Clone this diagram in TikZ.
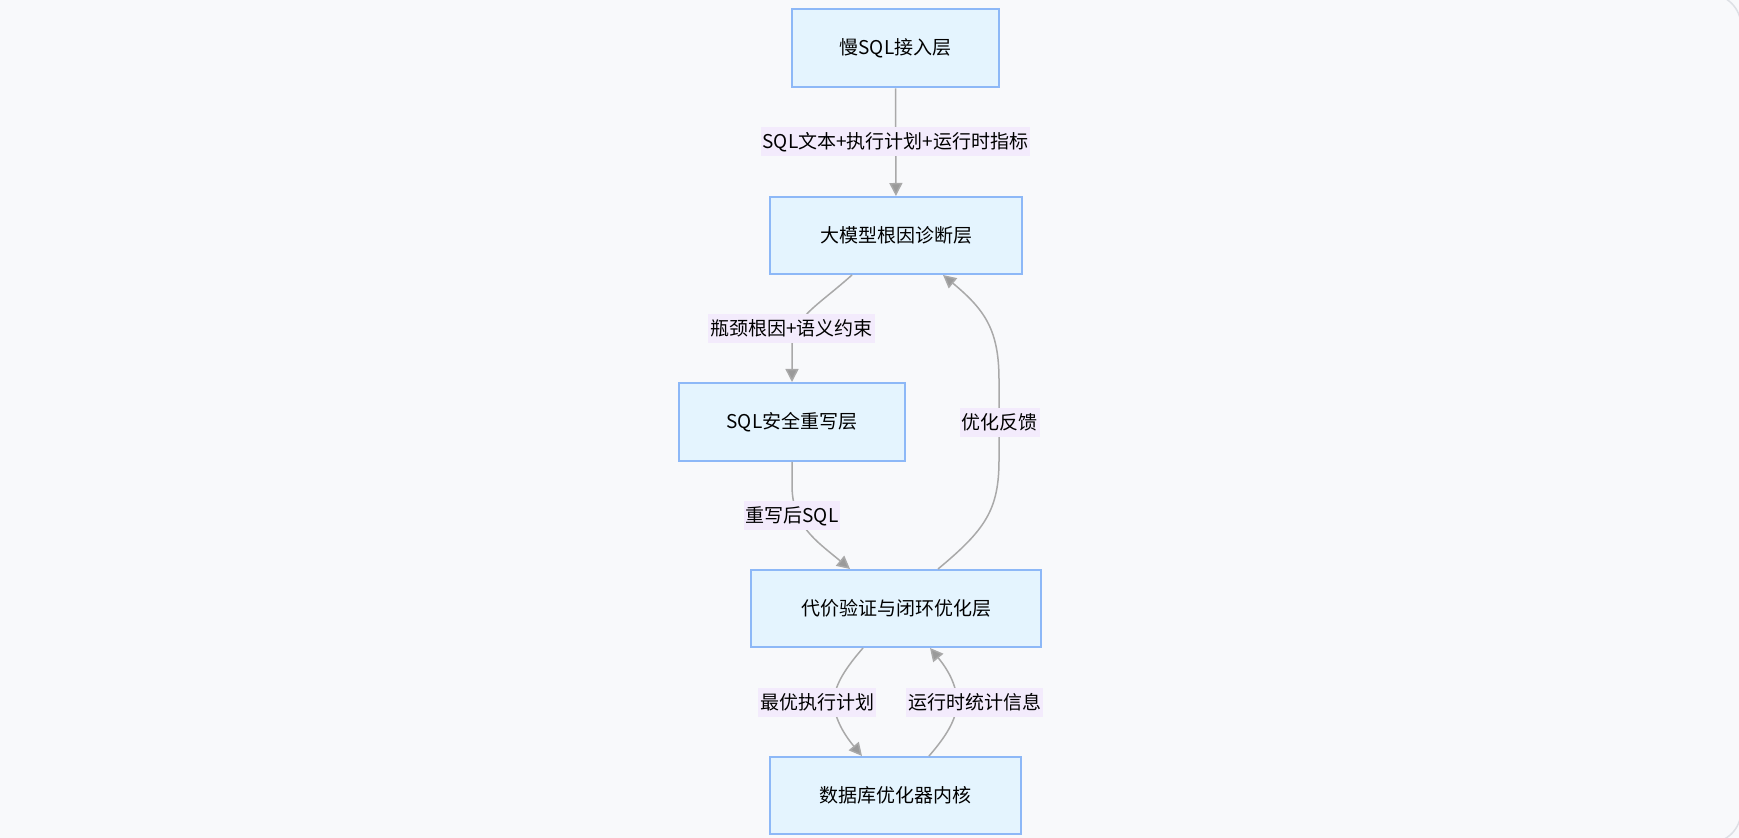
\documentclass[tikz,border=0pt]{standalone}
\usepackage{fontspec}
\setmainfont{Noto Sans CJK SC}
\usetikzlibrary{arrows.meta,calc}
\definecolor{bgc}{HTML}{F8F9FB}
\definecolor{boxfill}{HTML}{E4F4FE}
\definecolor{boxline}{HTML}{8DB8F7}
\definecolor{edgec}{HTML}{A9A9A9}
\definecolor{tipc}{HTML}{9A9A9A}
\definecolor{lblfill}{HTML}{F3EBFC}
\definecolor{cardline}{HTML}{DDE0E5}
\tikzset{
  layer/.style={draw=boxline, fill=boxfill, line width=1pt, font=\fontsize{9.5}{11}\selectfont, inner sep=0pt, anchor=center},
  lbl/.style={fill=lblfill, font=\fontsize{9.5}{11}\selectfont, inner xsep=1pt, inner ysep=0pt, minimum height=14.5pt},
  flow/.style={draw=edgec, line width=0.75pt, -{Triangle[length=6.5pt,width=6.5pt,fill=tipc]}},
}
\begin{document}
\begin{tikzpicture}[x=0.5pt,y=-0.5pt]
\useasboundingbox (0,0) rectangle (1739,838);
\fill[bgc] (0,0) rectangle (1739,838);
\draw[cardline, line width=0.75pt, rounded corners=16pt] (-30,-6) rectangle (1741,843);
% nodes
\node[layer, minimum width=103.5pt, minimum height=39pt] (n1) at (895.5,48.3) {慢SQL接入层};
\node[layer, minimum width=126pt, minimum height=38.5pt] (n2) at (896,235.5) {大模型根因诊断层};
\node[layer, minimum width=113pt, minimum height=39pt] (n3) at (792,422) {SQL安全重写层};
\node[layer, minimum width=145pt, minimum height=38.5pt] (n4) at (896,608.5) {代价验证与闭环优化层};
\node[layer, minimum width=125.5pt, minimum height=38.5pt] (n5) at (895.5,795.5) {数据库优化器内核};
% helper coordinates
\coordinate (a2) at ($(n2.south)+(-44,0)$);
\coordinate (b3) at (n3.north);
\coordinate (a3) at (n3.south);
\coordinate (b4) at ($(n4.north)+(-46,0)$);
\coordinate (f4) at ($(n4.north)+(42,0)$);
\coordinate (f2) at ($(n2.south)+(47,0)$);
\coordinate (o4) at ($(n4.south)+(-33,0)$);
\coordinate (o5) at ($(n5.north)+(-33.5,0)$);
\coordinate (r5) at ($(n5.north)+(33.5,0)$);
\coordinate (r4) at ($(n4.south)+(34,0)$);
% edges
\draw[flow] (n1) -- (n2);
\node[lbl] (l1) at (895.5,142) {SQL文本+执行计划+运行时指标};
\draw[flow] (a2) .. controls (815,308) and (792,318) .. (792,348) -- (b3);
\node[lbl] (l2) at (791.5,328.5) {瓶颈根因+语义约束};
\draw[flow] (a3) -- (792,485) .. controls (792,525) and (815,540) .. (b4);
\node[lbl] (l3) at (792,516) {重写后SQL};
\draw[flow] (f4) .. controls (985,530) and (999,510) .. (999,460) -- (999,380) .. controls (999,330) and (985,310) .. (f2);
\node[lbl] (l4) at (999.5,422.5) {优化反馈};
\draw[flow] (o4) .. controls (842,672) and (834,688) .. (834,702) .. controls (834,716) and (842,732) .. (o5);
\node[lbl] (l5) at (817,702.5) {最优执行计划};
\draw[flow] (r5) .. controls (950,732) and (957,716) .. (957,702) .. controls (957,688) and (950,672) .. (r4);
\node[lbl] (l6) at (974.5,702.5) {运行时统计信息};
\end{tikzpicture}
\end{document}
